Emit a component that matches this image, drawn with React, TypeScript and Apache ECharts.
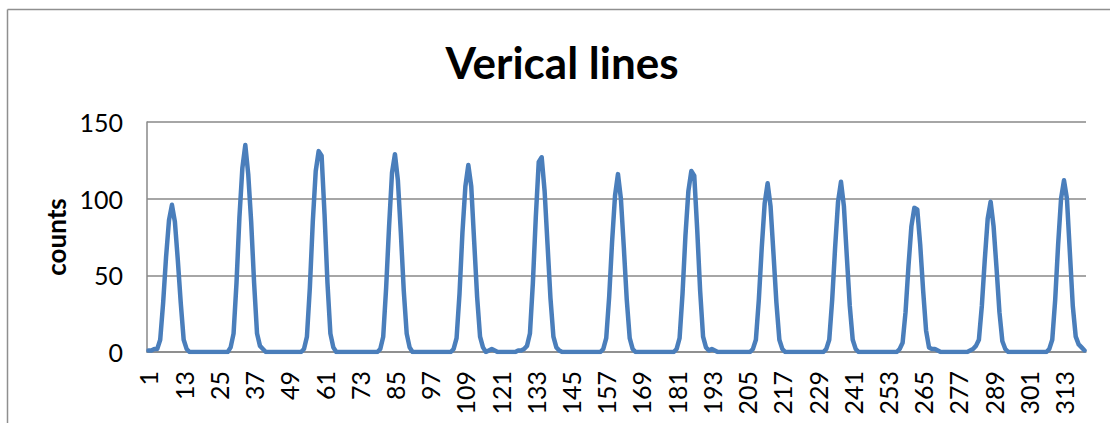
import React, { useEffect, useRef } from "react";
import * as echarts from "echarts";

const titleText = "Verical lines";
const yAxisName = "counts";
const yTicks = [0, 50, 100, 150];
const categories: string[] = Array.from({ length: 320 }, (_, i) => String(i + 1));

// counts, rows of 20 categories (1-20, 21-40, ...)
const counts: number[] = [
  1, 1, 2, 2, 8, 32, 62, 86, 96, 85, 60, 32, 8, 2, 0, 0, 0, 0, 0, 0,
  0, 0, 0, 0, 0, 0, 0, 0, 3, 12, 45, 88, 120, 135, 116, 85, 45, 12, 4, 2,
  0, 0, 0, 0, 0, 0, 0, 0, 0, 0, 0, 0, 0, 2, 10, 42, 85, 118, 131, 128,
  90, 45, 12, 3, 0, 0, 0, 0, 0, 0, 0, 0, 0, 0, 0, 0, 0, 0, 0, 2,
  10, 42, 82, 117, 129, 112, 78, 40, 12, 3, 0, 0, 0, 0, 0, 0, 0, 0, 0, 0,
  0, 0, 0, 0, 2, 9, 38, 78, 108, 122, 108, 72, 36, 10, 3, 0, 1, 2, 1, 0,
  0, 0, 0, 0, 0, 0, 1, 1, 2, 4, 12, 45, 88, 124, 127, 105, 70, 35, 10, 3,
  1, 0, 0, 0, 0, 0, 0, 0, 0, 0, 0, 0, 0, 0, 0, 2, 9, 36, 72, 102,
  116, 100, 68, 34, 9, 2, 0, 0, 0, 0, 0, 0, 0, 0, 0, 0, 0, 0, 0, 0,
  2, 9, 38, 76, 105, 118, 115, 80, 40, 10, 3, 1, 2, 1, 0, 0, 0, 0, 0, 0,
  0, 0, 0, 0, 0, 0, 2, 8, 34, 68, 97, 110, 95, 64, 32, 8, 2, 0, 0, 0,
  0, 0, 0, 0, 0, 0, 0, 0, 0, 0, 0, 2, 8, 34, 68, 98, 111, 95, 62, 30,
  8, 2, 0, 0, 0, 0, 0, 0, 0, 0, 0, 0, 0, 0, 0, 0, 2, 6, 26, 56,
  82, 94, 93, 70, 40, 14, 3, 2, 2, 1, 0, 0, 0, 0, 0, 0, 0, 0, 0, 0,
  1, 2, 4, 8, 30, 60, 87, 98, 82, 55, 26, 7, 2, 0, 0, 0, 0, 0, 0, 0,
  0, 0, 0, 0, 0, 0, 0, 2, 8, 34, 70, 100, 112, 100, 65, 30, 10, 5, 3, 1,
];

const FONT = "Lato, 'Open Sans', sans-serif";

export default function App() {
  const ref = useRef<HTMLDivElement>(null);
  useEffect(() => {
    document.body.style.margin = "0";
    const chart = echarts.init(ref.current!, null, { renderer: "svg" });
    chart.setOption({
      animation: false,
      backgroundColor: "#ffffff",
      graphic: [
        { type: "line", shape: { x1: 7.5, y1: 9.5, x2: 1110, y2: 9.5 }, style: { stroke: "#8f8f8f", lineWidth: 1.5 } },
        { type: "line", shape: { x1: 7.5, y1: 9.5, x2: 7.5, y2: 423 }, style: { stroke: "#8f8f8f", lineWidth: 1.5 } },
        {
          type: "text",
          x: 562,
          y: 62,
          style: {
            text: titleText,
            font: `bold 44px ${FONT}`,
            fill: "#000",
            textAlign: "center",
            textVerticalAlign: "middle",
          },
        },
      ],
      grid: { left: 147, right: 24, top: 122, bottom: 71, containLabel: false },
      xAxis: {
        type: "category",
        data: categories,
        boundaryGap: true,
        axisLine: { show: true, lineStyle: { color: "#888", width: 1.5 } },
        axisTick: { show: false },
        axisLabel: {
          interval: 11,
          rotate: 90,
          margin: 19,
          color: "#000",
          fontSize: 25,
          fontFamily: FONT,
        },
        splitLine: { show: false },
      },
      yAxis: {
        type: "value",
        min: 0,
        max: 150,
        interval: 50,
        name: yAxisName,
        nameLocation: "middle",
        nameGap: 76,
        nameTextStyle: { color: "#000", fontSize: 26, fontWeight: "bold", fontFamily: FONT },
        axisLine: { show: true, lineStyle: { color: "#888", width: 1.5 } },
        axisTick: { show: false },
        axisLabel: { color: "#000", fontSize: 25, fontFamily: FONT, margin: 24 },
        splitLine: { show: true, lineStyle: { color: "#888", width: 1.5 } },
      },
      series: [
        {
          type: "line",
          data: counts,
          showSymbol: false,
          smooth: false,
          lineStyle: { color: "#4a7ebb", width: 4.5, cap: "round", join: "round" },
          itemStyle: { color: "#4a7ebb" },
        },
      ],
    });
    return () => chart.dispose();
  }, []);
  return <div ref={ref} style={{ width: 1110, height: 423 }} />;
}
